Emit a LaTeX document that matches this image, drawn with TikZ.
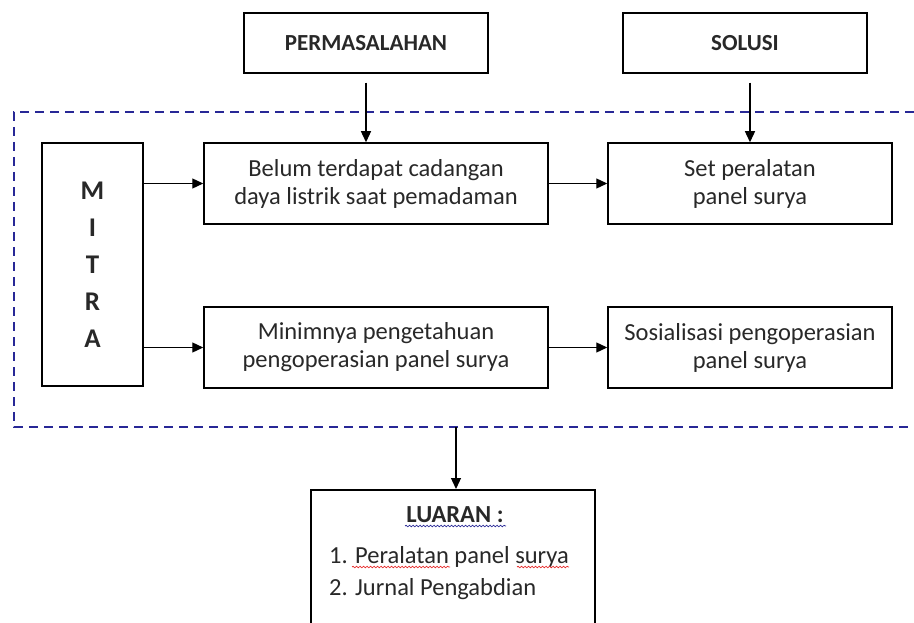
\documentclass[tikz,border=0pt]{standalone}
\usepackage{fontspec}
\setmainfont{Carlito}
\usetikzlibrary{arrows.meta,decorations.pathmorphing}
\definecolor{frameblue}{RGB}{40,40,150}
\definecolor{spellred}{RGB}{230,40,40}
\definecolor{txtgrey}{RGB}{40,40,40}
\tikzset{
	box/.style={draw, line width=1.5pt, align=center, inner sep=0pt, text=txtgrey, font=\fontsize{24.5}{28}\selectfont},
	headbox/.style={box, minimum width=244pt, minimum height=60pt, font=\fontsize{23}{28}\selectfont\bfseries},
	link/.style={line width=1.3pt, -{Triangle[length=11pt,width=10pt]}},
	spell/.style={decorate, decoration={snake, amplitude=0.8pt, segment length=3.5pt}, line width=0.7pt},
}

\begin{document}
\begin{tikzpicture}[x=1pt,y=-1pt]
			%%%%% START %%%%%
			\useasboundingbox (0,0) rectangle (914,623);
			
			\node[headbox] (masalah) at (366,43) {PERMASALAHAN};
			\node[headbox] (solusi) at (745,43) {SOLUSI};
			
			\node[box, minimum width=101pt, minimum height=243pt, font=\fontsize{27}{37}\selectfont\bfseries] (mitra) at (92.5,264.5) {M\\I\\T\\R\\A};
			
			\node[box, minimum width=344pt, minimum height=81pt] (belum) at (376,183.5) {Belum terdapat cadangan\\daya listrik saat pemadaman};
			\node[box, minimum width=284pt, minimum height=81pt] (setpanel) at (750,183.5) {Set peralatan\\panel surya};
			\node[box, minimum width=344pt, minimum height=81pt] (minim) at (376,347.5) {Minimnya pengetahuan\\pengoperasian panel surya};
			\node[box, minimum width=284pt, minimum height=81pt] (sosial) at (750,347.5) {Sosialisasi pengoperasian\\panel surya};
			
			% dashed frame, its right side runs off the page
			\draw[frameblue, line width=1.8pt, dash pattern=on 9pt off 6pt] (914,112) -- (14,112) -- (14,427) -- (914,427);
			\coordinate (frameS) at (456,427);
			
			\node[draw, line width=1.5pt, minimum width=284pt, minimum height=150pt, anchor=north] (luaran) at (453,489) {};
			\node[anchor=base, text=txtgrey, font=\fontsize{24.5}{28}\selectfont\bfseries] (luaranT) at (455,522) {LUARAN :};
			\node[anchor=base west, text=txtgrey, font=\fontsize{24.5}{28}\selectfont, inner sep=0pt] (item1) at (329,563) {1. Peralatan panel surya};
			\node[anchor=base west, text=txtgrey, font=\fontsize{24.5}{28}\selectfont, inner sep=0pt] (item2) at (329,595) {2. Jurnal Pengabdian};
			
			\draw[spell, frameblue] (405,526) -- (506,526);
			\draw[spell, spellred] (352,567) -- (450,567);
			\draw[spell, spellred] (517,567) -- (569,567);
			
			\draw[link, shorten <=9pt] (masalah.south) -- (masalah.south |- belum.north);
			\draw[link, shorten <=9pt] (setpanel.north |- solusi.south) -- (setpanel.north);
			\draw[link] (mitra.east |- belum.west) -- (belum.west);
			\draw[link] (mitra.east |- minim.west) -- (minim.west);
			\draw[link] (belum.east) -- (setpanel.west);
			\draw[link] (minim.east) -- (sosial.west);
			\draw[link] (frameS) -- (frameS |- luaran.north);
			
			%%%%% END %%%%%
\end{tikzpicture}
\end{document}
